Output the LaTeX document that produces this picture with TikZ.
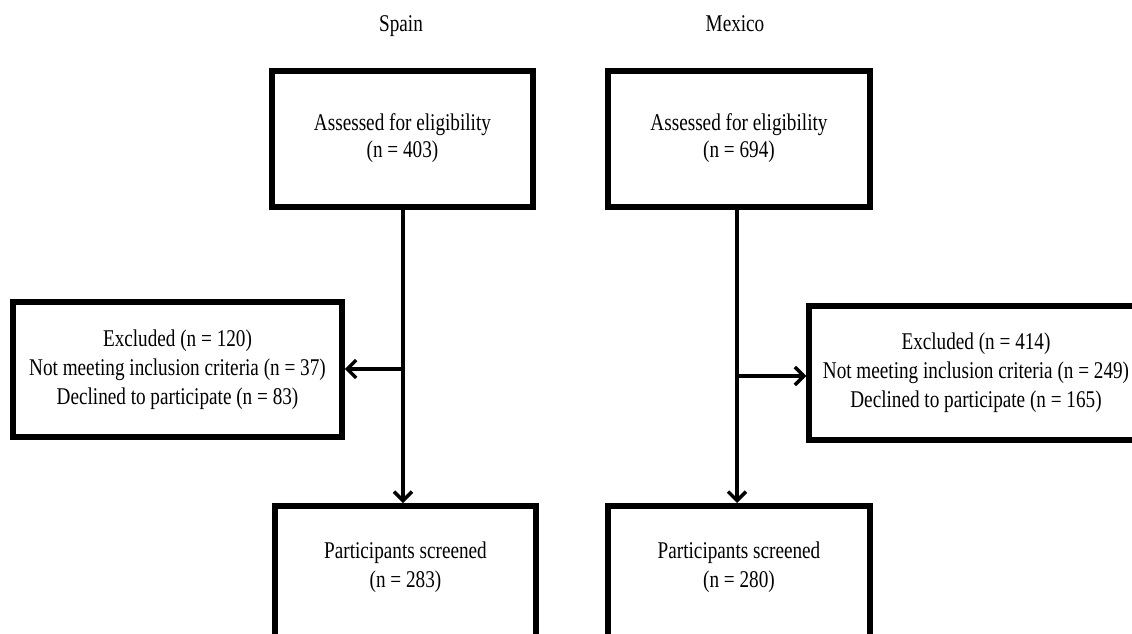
\documentclass[tikz,border=0pt]{standalone}
\usepackage{fontspec}
\setmainfont{Liberation Serif}[FakeStretch=0.80]
\usetikzlibrary{arrows.meta}
\tikzset{
  box/.style={draw, line width=5.5pt, inner sep=0pt},
  lbl/.style={font=\fontsize{24}{29}\selectfont, align=center, inner sep=0pt},
  flow/.style={line width=3.5pt, -{Straight Barb[length=9pt,width=18pt,line width=3.5pt]}},
}
\begin{document}
\begin{tikzpicture}[x=1pt,y=-1pt]
\useasboundingbox (0,0) rectangle (1132,634);
\clip (0,0) rectangle (1132,634);

% column headings
\node[lbl, anchor=base] (hspain) at (401,32) {Spain};
\node[lbl, anchor=base] (hmexico) at (735,32) {Mexico};

% eligibility boxes
\node[box, minimum width=261pt, minimum height=136pt] (assessS) at (402.5,139)
  {\fontsize{24}{27}\selectfont\begin{tabular}{c}Assessed for eligibility\\(n = 403)\end{tabular}};
\node[box, minimum width=262pt, minimum height=136pt] (assessM) at (739,139)
  {\fontsize{24}{27}\selectfont\begin{tabular}{c}Assessed for eligibility\\(n = 694)\end{tabular}};

% exclusion boxes
\node[box, minimum width=329pt, minimum height=135pt] (exclS) at (177.5,369.5) {};
\node[lbl] (exclStxt) at (exclS.center)
  {Excluded (n = 120)\\Not meeting inclusion criteria (n = 37)\\Declined to participate (n = 83)};
\node[box, minimum width=340pt, minimum height=134pt] (exclM) at (979,373) {};
\node[lbl] (exclMtxt) at (976,373)
  {Excluded (n = 414)\\Not meeting inclusion criteria (n = 249)\\Declined to participate (n = 165)};

% screening boxes (running past the lower edge)
\node[box, minimum width=261pt, minimum height=180pt, anchor=north] (scrS) at (405.5,503) {};
\node[lbl, anchor=base] (scrStxt) at (405.5,587) {Participants screened\\(n = 283)};
\node[box, minimum width=262pt, minimum height=180pt, anchor=north] (scrM) at (739,503) {};
\node[lbl, anchor=base] (scrMtxt) at (739,587) {Participants screened\\(n = 280)};

% branching points on the trunks
\coordinate (jS) at (403,369);
\coordinate (jM) at (737,376);

% connectors
\draw[flow] (assessS.south -| jS) -- (scrS.north -| jS);
\draw[flow] (jS) -- (exclS.east |- jS);
\draw[flow] (assessM.south -| jM) -- (scrM.north -| jM);
\draw[flow] (jM) -- (exclM.west |- jM);
\end{tikzpicture}
\end{document}
